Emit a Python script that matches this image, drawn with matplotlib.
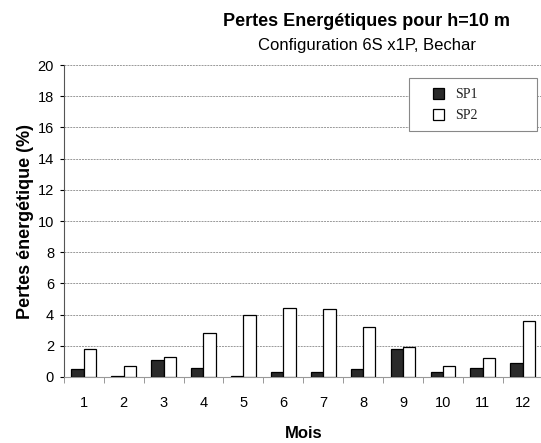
import numpy as np
import matplotlib.pyplot as plt
from matplotlib.patches import Rectangle

plt.rcParams['font.family'] = ['Liberation Sans', 'DejaVu Sans']

# monthly energy losses (%)
mois = np.arange(1, 13)
sp1 = [0.5, 0.05, 1.1, 0.6, 0.05, 0.3, 0.3, 0.5, 1.8, 0.35, 0.6, 0.9]
sp2 = [1.8, 0.7, 1.3, 2.8, 3.95, 4.45, 4.35, 3.2, 1.9, 0.7, 1.2, 3.6]

fig = plt.figure(figsize=(5.41, 4.43), dpi=100)
# plot area runs a little past the right edge (cropped scan)
ax = fig.add_axes([0.118, 0.149, 0.885, 0.704])

w = 0.31
ax.bar(mois - w/2, sp1, w, color='#2a2a2a', edgecolor='black', linewidth=0.9, label='SP1', zorder=3)
ax.bar(mois + w/2, sp2, w, color='white', edgecolor='black', linewidth=0.9, label='SP2', zorder=3)

ax.set_xlim(0.5, 12.5)
ax.set_ylim(0, 20)
ax.set_yticks(np.arange(0, 21, 2))
ax.set_xticks(mois)
ax.set_xticks(np.arange(0.5, 13, 1), minor=True)
ax.tick_params(axis='x', which='major', length=0, pad=14, labelsize=10.5)
ax.tick_params(axis='x', which='minor', length=4, color='#888888')
ax.tick_params(axis='y', length=3, labelsize=10.5, pad=4)

ax.grid(axis='y', color='#999999', linestyle=(0, (2, 1)), linewidth=0.7, zorder=0)
for s in ['top', 'right']:
    ax.spines[s].set_visible(False)
ax.spines['left'].set_color('#555555')
ax.spines['bottom'].set_color('#999999')

ax.set_ylabel('Pertes énergétique (%)', fontsize=13, fontweight='bold', labelpad=3)
ax.set_xlabel('Mois', fontsize=12, fontweight='bold', labelpad=11)

# legend box (wide, Excel style) + entries
fig.patches.append(Rectangle((0.756, 0.704), 0.237, 0.120, transform=fig.transFigure,
                             facecolor='white', edgecolor='#888888', linewidth=0.8, zorder=5))
leg = fig.legend(loc='upper left', bbox_to_anchor=(0.800, 0.801), prop={'family': 'Liberation Serif', 'size': 10},
                 frameon=False, handlelength=0.8, handleheight=0.8,
                 handletextpad=0.8, borderpad=0, labelspacing=0.55, borderaxespad=0)
leg.set_zorder(6)
for t in leg.get_texts():
    t.set_color('#222222')

fig.text(0.678, 0.952, 'Pertes Energétiques pour h=10 m', ha='center', va='center', fontsize=13, fontweight='bold')
fig.text(0.678, 0.898, 'Configuration 6S x1P, Bechar', ha='center', va='center', fontsize=12)

fig.savefig('out.png', dpi=100)
